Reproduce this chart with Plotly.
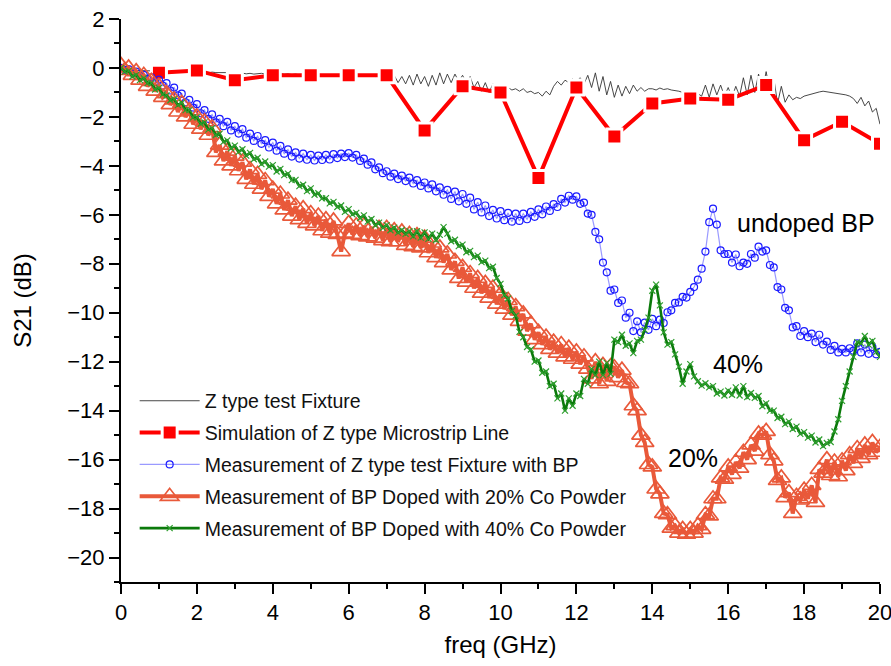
import plotly.graph_objects as go

# ---------------- data ----------------
# sampling grid of the measured traces (GHz)
freq = [i / 10 for i in range(201)]

# Z type test fixture (thin black)
fixture_db = [
    0.00, -0.05, -0.08, -0.10, -0.10, -0.12, -0.10, -0.13, -0.12, -0.15,
    -0.12, -0.15, -0.13, -0.16, -0.14, -0.15, -0.17, -0.15, -0.18, -0.16,
    -0.15, -0.18, -0.16, -0.20, -0.17, -0.19, -0.18, -0.20, -0.19, -0.22,
    -0.20, -0.22, -0.21, -0.24, -0.22, -0.25, -0.23, -0.22, -0.25, -0.24,
    -0.22, -0.25, -0.23, -0.26, -0.24, -0.27, -0.25, -0.28, -0.26, -0.29,
    -0.27, -0.30, -0.28, -0.31, -0.29, -0.30, -0.28, -0.32, -0.29, -0.31,
    -0.30, -0.33, -0.28, -0.34, -0.30, -0.33, -0.29, -0.35, -0.30, -0.33,
    -0.35, -0.55, -0.30, -0.60, -0.35, -0.65, -0.30, -0.70, -0.25, -0.65,
    -0.35, -0.75, -0.30, -0.70, -0.20, -0.65, -0.25, -0.60, -0.25, -0.55,
    -0.30, -0.60, -0.35, -0.80, -0.55, -0.95, -0.60, -1.00, -0.65, -0.90,
    -0.75, -0.90, -0.80, -0.90, -0.85, -0.95, -0.85, -1.00, -0.95, -1.05,
    -1.00, -1.15, -0.95, -1.10, -0.75, -0.55, -0.70, -0.50, -0.60, -0.45,
    -0.55, -0.40, -0.65, -0.30, -0.80, -0.20, -0.95, -0.35, -1.10, -0.55,
    -1.20, -0.70, -1.15, -0.75, -1.05, -0.70, -0.95, -0.80, -0.95, -0.85,
    -0.85, -0.90, -0.82, -0.88, -0.85, -0.90, -0.92, -0.95, -1.00, -1.10,
    -1.15, -1.20, -1.05, -1.15, -0.70, -1.20, -0.65, -1.10, -0.70, -1.15,
    -0.80, -1.20, -0.75, -1.15, -0.40, -1.10, -0.30, -1.00, -0.25, -0.95,
    -0.15, -1.00, -0.40, -1.45, -0.75, -1.40, -1.10, -1.30, -1.20, -1.25,
    -1.15, -1.10, -1.05, -1.00, -0.98, -0.95, -0.97, -1.00, -1.02, -1.05,
    -1.08, -1.10, -1.15, -1.25, -1.45, -1.20, -1.55, -1.35, -1.80, -1.65,
    -2.30,
]

# Simulation of Z type microstrip line (red squares)
sim_freq = [1, 2, 3, 4, 5, 6, 7, 8, 9, 10, 11, 12, 13, 14, 15, 16, 17, 18, 19, 20]
sim_db = [-0.2, -0.1, -0.5, -0.3, -0.3, -0.3, -0.3, -2.55, -0.75, -1.0,
          -4.5, -0.8, -2.8, -1.45, -1.25, -1.3, -0.7, -2.95, -2.2, -3.1]

# Measurement of Z type test fixture with BP (blue circles, "undoped BP")
undoped_db = [
    0.00, -0.08, -0.05, -0.20, -0.15, -0.33, -0.28, -0.45, -0.38, -0.58,
    -0.48, -0.72, -0.62, -0.92, -0.80, -1.12, -1.05, -1.40, -1.30, -1.62,
    -1.48, -1.85, -1.72, -2.08, -1.90, -2.22, -2.08, -2.38, -2.20, -2.55,
    -2.38, -2.68, -2.50, -2.85, -2.68, -2.98, -2.78, -3.10, -2.95, -3.25,
    -3.05, -3.38, -3.18, -3.50, -3.33, -3.62, -3.45, -3.70, -3.50, -3.75,
    -3.55, -3.78, -3.58, -3.76, -3.55, -3.74, -3.52, -3.68, -3.50, -3.64,
    -3.48, -3.66, -3.55, -3.80, -3.70, -3.95, -3.86, -4.14, -4.06, -4.30,
    -4.22, -4.44, -4.32, -4.54, -4.40, -4.62, -4.48, -4.72, -4.58, -4.82,
    -4.68, -4.92, -4.76, -5.04, -4.88, -5.18, -4.98, -5.35, -5.05, -5.45,
    -5.15, -5.55, -5.30, -5.78, -5.48, -5.90, -5.62, -6.05, -5.80, -6.15,
    -5.85, -6.22, -5.92, -6.28, -5.95, -6.25, -5.95, -6.18, -5.88, -6.08,
    -5.78, -5.98, -5.66, -5.84, -5.56, -5.68, -5.35, -5.50, -5.22, -5.38,
    -5.25, -5.55, -5.50, -5.95, -6.00, -6.70, -7.00, -7.95, -8.35, -9.10,
    -9.05, -9.60, -9.50, -10.20, -10.00, -10.75, -10.35, -10.80, -10.40, -10.70,
    -10.25, -10.55, -10.28, -10.42, -9.98, -9.90, -9.60, -9.58, -9.35, -9.38,
    -9.15, -8.95, -8.65, -8.20, -7.50, -6.30, -5.75, -6.40, -7.45, -7.60,
    -7.60, -7.95, -7.62, -8.10, -7.95, -8.00, -7.60, -7.75, -7.30, -7.50,
    -7.45, -8.05, -8.15, -8.95, -9.05, -9.80, -9.90, -10.60, -10.55, -10.95,
    -10.75, -11.00, -10.85, -11.20, -10.90, -11.30, -11.18, -11.52, -11.35, -11.62,
    -11.48, -11.62, -11.45, -11.55, -11.25, -11.62, -11.30, -11.68, -11.40, -11.70,
    -11.60,
]

# Measurement of BP doped with 20% Co powder (orange triangles)
co20_db = [
    0.10, -0.10, 0.00, -0.30, -0.15, -0.50, -0.30, -0.75, -0.55, -0.95,
    -0.75, -1.20, -1.05, -1.50, -1.30, -1.80, -1.45, -2.00, -1.75, -2.30,
    -2.00, -2.50, -2.20, -2.75, -2.45, -3.45, -3.15, -3.80, -3.40, -4.00,
    -3.60, -4.20, -3.85, -4.55, -4.15, -4.75, -4.35, -4.95, -4.60, -5.25,
    -4.95, -5.55, -5.15, -5.80, -5.40, -6.05, -5.65, -6.20, -5.75, -6.35,
    -5.95, -6.45, -6.05, -6.65, -6.20, -6.75, -6.25, -6.80, -7.50, -6.75,
    -6.35, -6.80, -6.45, -6.85, -6.45, -6.90, -6.50, -6.95, -6.55, -7.05,
    -6.55, -7.10, -6.65, -7.10, -6.70, -7.25, -6.80, -7.30, -6.85, -7.35,
    -6.95, -7.55, -7.15, -7.75, -7.35, -7.95, -7.60, -8.25, -7.90, -8.60,
    -8.15, -8.75, -8.40, -9.00, -8.60, -9.20, -8.80, -9.40, -9.00, -9.65,
    -9.25, -9.85, -9.50, -10.10, -9.75, -10.35, -10.05, -10.75, -10.45, -11.10,
    -10.80, -11.30, -11.00, -11.50, -11.20, -11.65, -11.30, -11.80, -11.45, -11.90,
    -11.60, -12.10, -11.80, -12.30, -12.70, -12.00, -12.90, -12.15, -12.80, -12.20,
    -12.25, -12.65, -12.35, -12.85, -12.90, -13.80, -14.00, -15.00, -15.30, -16.20,
    -16.30, -17.20, -17.40, -18.20, -18.25, -18.80, -18.70, -19.00, -18.85, -19.05,
    -18.85, -19.00, -18.70, -18.85, -18.25, -18.30, -17.60, -17.60, -16.75, -16.80,
    -16.30, -16.60, -16.10, -16.35, -15.70, -16.00, -15.40, -15.65, -14.95, -15.00,
    -14.85, -15.80, -16.05, -16.85, -16.75, -17.55, -17.35, -18.20, -17.50, -17.65,
    -17.25, -17.60, -17.05, -17.75, -16.40, -16.55, -16.00, -16.65, -16.10, -16.70,
    -16.05, -16.45, -15.80, -16.15, -15.55, -15.95, -15.40, -15.80, -15.30, -15.70,
    -15.50,
]

# Measurement of BP doped with 40% Co powder (green)
co40_db = [
    0.00, -0.15, -0.12, -0.35, -0.28, -0.50, -0.42, -0.62, -0.62, -0.88,
    -0.82, -1.08, -1.12, -1.32, -1.28, -1.52, -1.42, -1.72, -1.72, -2.02,
    -2.02, -2.28, -2.22, -2.52, -2.46, -2.74, -2.68, -3.02, -2.96, -3.28,
    -3.17, -3.43, -3.32, -3.58, -3.47, -3.73, -3.67, -3.93, -3.82, -4.03,
    -3.97, -4.23, -4.12, -4.38, -4.32, -4.58, -4.57, -4.83, -4.77, -5.03,
    -4.92, -5.18, -5.12, -5.33, -5.32, -5.53, -5.47, -5.68, -5.62, -5.88,
    -5.77, -5.98, -5.92, -6.13, -6.02, -6.28, -6.17, -6.43, -6.32, -6.53,
    -6.42, -6.63, -6.52, -6.73, -6.62, -6.78, -6.67, -6.88, -6.67, -6.93,
    -6.72, -6.98, -6.77, -7.03, -6.82, -6.50, -6.77, -7.08, -7.02, -7.28,
    -7.22, -7.53, -7.47, -7.73, -7.67, -7.93, -7.87, -8.18, -8.12, -8.58,
    -8.82, -9.28, -9.42, -9.93, -10.12, -10.78, -11.00, -11.40, -11.50, -12.00,
    -11.95, -12.45, -12.40, -13.00, -12.90, -13.50, -13.30, -14.00, -13.50, -13.80,
    -13.30, -13.40, -12.70, -12.90, -12.30, -12.55, -12.00, -12.55, -12.05, -12.50,
    -11.10, -11.20, -10.90, -11.35, -11.25, -11.65, -11.15, -11.10, -10.70, -10.20,
    -9.10, -8.85, -9.70, -10.80, -11.30, -11.20, -11.70, -12.20, -12.90, -12.40,
    -12.10, -12.60, -12.80, -12.98, -12.88, -13.05, -13.00, -13.30, -13.22, -13.38,
    -13.18, -13.35, -13.05, -13.38, -13.00, -13.45, -13.28, -13.48, -13.40, -13.82,
    -13.70, -14.00, -14.00, -14.30, -14.25, -14.55, -14.45, -14.75, -14.65, -14.95,
    -14.88, -15.10, -15.02, -15.30, -15.18, -15.45, -15.32, -15.28, -14.85, -14.35,
    -13.60, -13.00, -12.40, -11.80, -11.20, -11.25, -10.95, -11.30, -11.15, -11.60,
    -11.80,
]

names = [
    "Z type test Fixture",
    "Simulation of Z type Microstrip Line",
    "Measurement of Z type test Fixture with BP",
    "Measurement of BP Doped with 20% Co Powder",
    "Measurement of BP Doped with 40% Co Powder",
]

# ---------------- figure ----------------
fig = go.Figure()

fig.add_trace(go.Scatter(
    x=freq, y=fixture_db, mode="lines", name=names[0], legendgroup="g0",
    line=dict(color="#333333", width=0.9),
))
fig.add_trace(go.Scatter(
    x=sim_freq, y=sim_db, mode="lines+markers", name=names[1], legendgroup="g1",
    line=dict(color="#ff0000", width=4),
    marker=dict(symbol="square", size=15, color="#ff0000",
                line=dict(color="white", width=3)),
))
fig.add_trace(go.Scatter(
    x=freq, y=undoped_db, mode="lines+markers", name=names[2], legendgroup="g2",
    line=dict(color="#9a9aff", width=1.2),
    marker=dict(symbol="circle-open", size=7, color="#1a1aff",
                line=dict(width=1.2)),
))
fig.add_trace(go.Scatter(
    x=freq, y=co20_db, mode="lines+markers", name=names[3], legendgroup="g3",
    line=dict(color="#e9593a", width=4),
    marker=dict(symbol="triangle-up-open", size=16, color="#e9593a",
                line=dict(width=1.7)),
))
fig.add_trace(go.Scatter(
    x=freq, y=co40_db, mode="lines+markers", name=names[4], legendgroup="g4",
    line=dict(color="#0b7a0b", width=2.6),
    marker=dict(symbol="x-thin-open", size=6, color="#2e9e2e",
                line=dict(width=1.2)),
))

axis_common = dict(
    showline=True, linecolor="black", linewidth=2,
    ticks="outside", ticklen=10, tickwidth=2, tickcolor="black",
    showgrid=False, zeroline=False, mirror=False,
    tickfont=dict(size=22, color="black"),
    ticklabeloverflow="allow", automargin=False,
)

fig.update_xaxes(
    range=[0, 20], tickmode="linear", tick0=0, dtick=2,
    minor=dict(dtick=1, ticks="outside", ticklen=5, tickwidth=2,
               tickcolor="black", showgrid=False),
    title=dict(text="freq (GHz)", font=dict(size=24, color="black"), standoff=12),
    **axis_common,
)
fig.update_yaxes(
    range=[-21, 2], tickmode="linear", tick0=0, dtick=2,
    minor=dict(dtick=1, ticks="outside", ticklen=5, tickwidth=2,
               tickcolor="black", showgrid=False),
    title=dict(text="S21 (dB)", font=dict(size=24, color="black"), standoff=29),
    **axis_common,
)

fig.add_annotation(x=18.05, y=-6.33, text="undoped BP", showarrow=False,
                   font=dict(size=25, color="black"))
fig.add_annotation(x=16.25, y=-12.1, text="40%", showarrow=False,
                   font=dict(size=25, color="black"))
fig.add_annotation(x=15.08, y=-15.95, text="20%", showarrow=False,
                   font=dict(size=25, color="black"))

fig.update_layout(
    width=891, height=666,
    margin=dict(l=121, r=11, t=19, b=84),
    paper_bgcolor="white", plot_bgcolor="white",
    font=dict(family="Liberation Sans, Arial, sans-serif", color="black"),
    legend=dict(
        x=0.018, y=0.356, xanchor="left", yanchor="top",
        bgcolor="rgba(0,0,0,0)", font=dict(size=19.5, color="#111111"),
        itemwidth=60, tracegroupgap=3.5,
    ),
)

fig.write_html("out.html")
